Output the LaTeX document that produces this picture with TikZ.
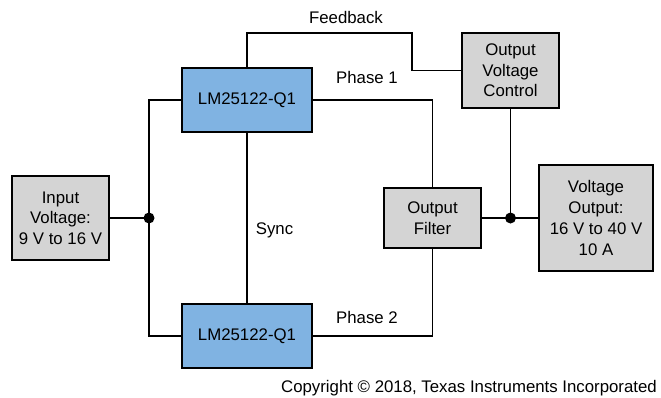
\documentclass[tikz,border=0pt]{standalone}
\usepackage{fontspec}
\setmainfont{Liberation Sans}
\begin{document}
\begin{tikzpicture}[x=1pt,y=1pt,
  every node/.style={font=\fontsize{16.8}{20.7}\selectfont},
  graybox/.style={draw=black, line width=2.4pt, fill=boxgray, inner sep=0pt, outer sep=0pt, align=center},
  bluebox/.style={draw=black, line width=2.4pt, fill=boxblue, inner sep=0pt, outer sep=0pt, align=center},
  wire/.style={line width=1.6pt, black},
  junction/.style={circle, fill=black, inner sep=0pt, minimum size=11pt},
  lbl/.style={inner sep=0pt}]
\definecolor{boxgray}{RGB}{212,212,212}
\definecolor{boxblue}{RGB}{128,179,226}
\useasboundingbox (0,0) rectangle (661,-397);

\node[graybox, minimum width=97pt, minimum height=84pt] (in) at (60.5,-218) {Input\\Voltage:\\9 V to 16 V};
\node[bluebox, minimum width=130pt, minimum height=64pt] (lm1) at (247,-100) {LM25122-Q1};
\node[bluebox, minimum width=130pt, minimum height=64pt] (lm2) at (247,-336) {LM25122-Q1};
\node[graybox, minimum width=97pt, minimum height=75pt] (ovc) at (510.5,-70.5) {Output\\Voltage\\Control};
\node[graybox, minimum width=97pt, minimum height=60pt] (of) at (432.5,-218) {Output\\Filter};
\node[graybox, minimum width=114pt, minimum height=106pt] (vo) at (596,-218) {Voltage\\Output:\\16 V to 40 V\\10 A};

\node[junction] (j1) at (149,-218) {};
\node[junction] (j2) at (510.5,-218) {};
\coordinate (fb) at (412,-33);

\draw[wire] (in.east) -- (j1.center);
\draw[wire] (lm1.west) -| (j1.center) |- (lm2.west);
\draw[wire] (lm1.south) -- (lm2.north);
\draw[wire] (lm1.north) |- (fb) |- (ovc.west);
\draw[wire] (lm1.east) -| (of.north);
\draw[wire] (lm2.east) -| (of.south);
\draw[wire] (of.east) -- (j2.center) -- (vo.west);
\draw[wire] (ovc.south) -- (j2.center);

\node[lbl] (tfb) at (346,-17) {Feedback};
\node[lbl] (tp1) at (367,-77) {Phase 1};
\node[lbl] (tp2) at (367,-317) {Phase 2};
\node[lbl] (tsy) at (274.5,-230) {Sync};
\node[lbl, anchor=east] (cr) at (657,-388) {Copyright \textcopyright{} 2018, Texas Instruments Incorporated};
\end{tikzpicture}
\end{document}
